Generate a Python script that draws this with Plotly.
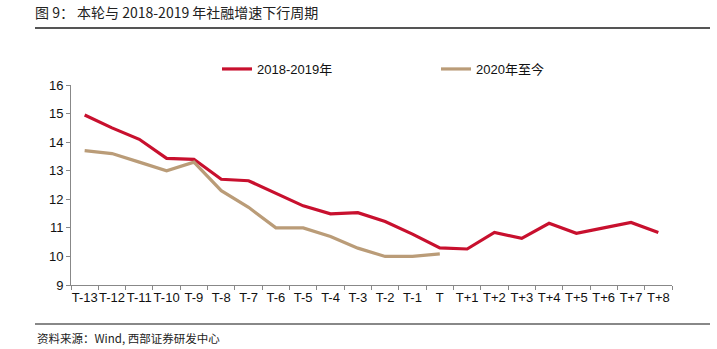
import plotly.graph_objects as go

# Period labels relative to the trough month T
periods = ["T-13", "T-12", "T-11", "T-10", "T-9", "T-8", "T-7", "T-6", "T-5", "T-4",
           "T-3", "T-2", "T-1", "T", "T+1", "T+2", "T+3", "T+4", "T+5", "T+6", "T+7", "T+8"]

# Social financing stock growth (%), 2018-2019 cycle
cycle_2018 = [14.95, 14.5, 14.1, 13.43, 13.4, 12.7, 12.65, 12.2, 11.77, 11.49,
              11.53, 11.22, 10.78, 10.3, 10.26, 10.84, 10.63, 11.16, 10.81, 11.0, 11.19, 10.84]

# Social financing stock growth (%), 2020 to date
cycle_2020 = [13.7, 13.6, 13.3, 13.0, 13.3, 12.3, 11.72, 11.0, 11.0, 10.7,
              10.29, 10.0, 10.0, 10.09]

RED = "#C8102E"
TAN = "#BA9C78"

W, H = 717, 349
L, R, T, B = 71, 45, 85, 64
pw, ph = W - L - R, H - T - B


def px_x(x):
    return (x - L) / pw


def px_y(y):
    return 1 - (y - T) / ph


fig = go.Figure()
fig.add_trace(go.Scatter(x=periods, y=cycle_2018, mode="lines", name="2018-2019年",
                         line=dict(color=RED, width=3.2)))
fig.add_trace(go.Scatter(x=periods[:len(cycle_2020)], y=cycle_2020, mode="lines",
                         name="2020年至今", line=dict(color=TAN, width=3.2)))

axis_font = dict(family="Liberation Sans, Arial, sans-serif", size=13, color="#111")


def rule(y_px, color):
    # thin horizontal rule spanning the page width, drawn as a filled annotation box
    return dict(text="", xref="paper", yref="paper",
                x=px_x(35), y=px_y(y_px), xanchor="left", yanchor="middle",
                width=675, height=2, borderpad=0, borderwidth=0,
                bgcolor=color, showarrow=False)


fig.update_layout(
    width=W, height=H,
    margin=dict(l=L, r=R, t=T, b=B, autoexpand=False),
    paper_bgcolor="white", plot_bgcolor="white",
    showlegend=True,
    legend=dict(orientation="h", xref="paper", yref="paper",
                x=px_x(217), y=px_y(69), xanchor="left", yanchor="middle",
                entrywidth=174, entrywidthmode="pixels",
                font=dict(family="Liberation Sans, Noto Sans CJK SC, sans-serif", size=13, color="#111"),
                bgcolor="rgba(0,0,0,0)"),
    title=dict(text="图 9： 本轮与 2018-2019 年社融增速下行周期",
               xref="container", yref="container", x=35 / W, y=1 - 13 / H,
               xanchor="left", yanchor="middle",
               font=dict(family="Noto Sans CJK SC, sans-serif", size=14, color="#222")),
    xaxis=dict(type="category", showgrid=False, zeroline=False,
               showline=True, linecolor="#888", linewidth=1,
               ticks="outside", ticklen=4, tickcolor="#888", tickson="boundaries",
               tickangle=0, tickfont=axis_font, range=[-0.5, len(periods) - 0.5]),
    yaxis=dict(range=[9, 16], dtick=1, showgrid=False, zeroline=False,
               showline=True, linecolor="#888", linewidth=1,
               ticks="outside", ticklen=4, tickcolor="#888",
               tickfont=axis_font),
    annotations=[
        rule(28, "#555"),
        rule(324, "#888"),
        dict(text="资料来源：Wind, 西部证券研发中心", xref="paper", yref="paper",
             x=px_x(35), y=px_y(338), xanchor="left", yanchor="middle", showarrow=False,
             font=dict(family="Noto Sans CJK SC, sans-serif", size=11.5, color="#222")),
    ],
)

fig.write_html("out.html")
